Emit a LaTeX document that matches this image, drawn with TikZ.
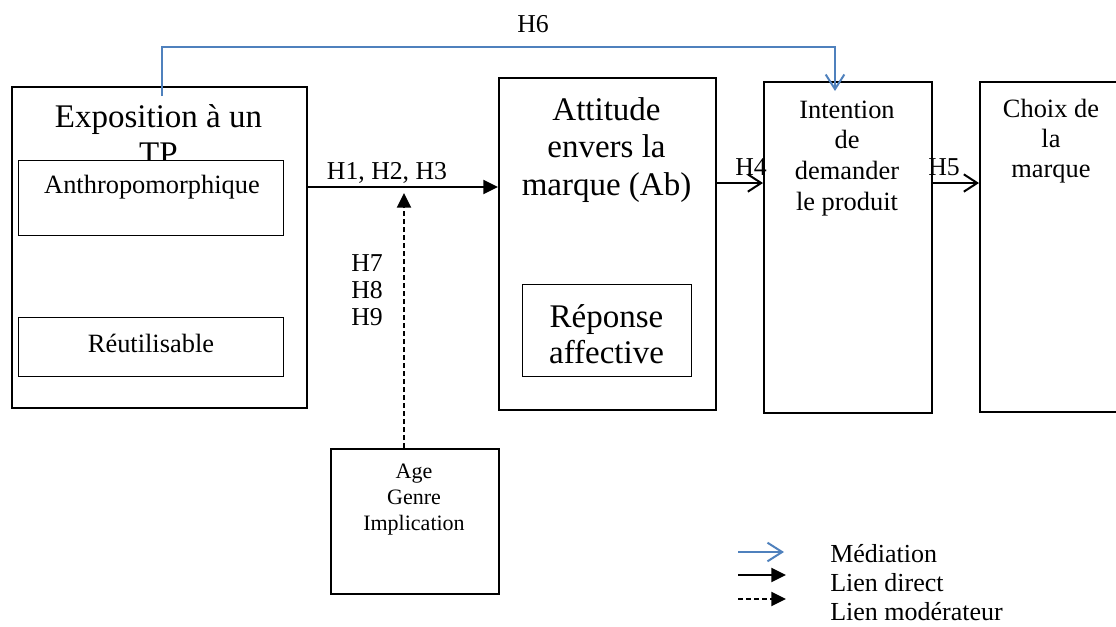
\documentclass[tikz,border=0pt]{standalone}
\usepackage{fontspec}
\setmainfont{Liberation Serif}
\usetikzlibrary{arrows.meta}
\definecolor{medblue}{RGB}{79,129,189}
\tikzset{
  box/.style={draw=black, line width=1.5pt, fill=white, inner sep=0pt},
  inbox/.style={draw=black, line width=1.1pt, fill=white, inner sep=0pt},
  bigtxt/.style={font=\fontsize{24.75}{28}\selectfont, align=center, anchor=base, inner sep=0pt},
  medtxt/.style={font=\fontsize{19.8}{23}\selectfont, align=center, anchor=base, inner sep=0pt},
  smalltxt/.style={font=\fontsize{16.5}{19.5}\selectfont, align=center, anchor=base, inner sep=0pt},
  lbl/.style={font=\fontsize{19.3}{19.9}\selectfont, anchor=base, inner sep=0pt},
  direct/.style={line width=1.5pt, -{Triangle[length=11pt,width=10.5pt]}},
  moder/.style={line width=1.5pt, dash pattern=on 3.75pt off 2.25pt, -{Triangle[length=11pt,width=10.5pt]}},
  openarr/.style={line width=1.5pt, -{Straight Barb[length=10pt,width=13pt,line width=1.5pt]}},
  medi/.style={line width=1.5pt, draw=medblue, -{Straight Barb[length=11pt,width=14pt,line width=1.5pt]}},
}
\begin{document}
\begin{tikzpicture}[x=0.75pt,y=-0.75pt]
\useasboundingbox (0,0) rectangle (1116,626);
% boxes
\node[box, minimum width=295pt*0.75, minimum height=321pt*0.75, anchor=north west] (expo) at (11,86) {};
\node[bigtxt, font=\fontsize{24.75}{27.5}\selectfont] (expot) at (158.5,164) {Exposition à un\\TP};
\node[inbox, minimum width=265pt*0.75, minimum height=75pt*0.75, anchor=north west] (anth) at (18,160) {};
\node[medtxt] (antht) at (152,193) {Anthropomorphique};
\node[inbox, minimum width=265pt*0.75, minimum height=59pt*0.75, anchor=north west] (reut) at (18,317) {};
\node[medtxt] (reutt) at (151,352) {Réutilisable};

\node[box, minimum width=217pt*0.75, minimum height=332pt*0.75, anchor=north west] (att) at (498,77) {};
\node[bigtxt] (attt) at (606.5,195) {Attitude\\envers la\\marque (Ab)};
\node[inbox, minimum width=169pt*0.75, minimum height=92pt*0.75, anchor=north west] (rep) at (522,284) {};
\node[bigtxt, font=\fontsize{24.75}{27}\selectfont] (rept) at (606.5,363) {Réponse\\affective};

\node[box, minimum width=168pt*0.75, minimum height=331pt*0.75, anchor=north west] (int) at (763,81) {};
\node[medtxt] (intt) at (847,210) {Intention\\de\\demander\\le produit};

\node[box, minimum width=150pt*0.75, minimum height=330pt*0.75, anchor=north west] (cho) at (979,81) {};
\node[medtxt, font=\fontsize{19.8}{22.5}\selectfont] (chot) at (1051,177) {Choix de\\la\\marque};

\node[box, minimum width=168pt*0.75, minimum height=145pt*0.75, anchor=north west] (age) at (330,448) {};
\node[smalltxt] (aget) at (414,530) {Age\\Genre\\Implication};

% connectors
\coordinate (h13a) at (expo.east |- 0,187);
\coordinate (h13b) at (att.west |- 0,187);
\draw[direct] (h13a) -- (h13b);
\node[lbl] (h13) at (387,179) {H1, H2, H3};

\coordinate (modtip) at (404,193);
\draw[moder] (age.north -| modtip) -- (modtip);
\node[lbl, font=\fontsize{19.3}{19.9}\selectfont, align=left, anchor=base west] (h789) at (351,325) {H7\\H8\\H9};

\coordinate (h4a) at (att.east |- 0,183);
\coordinate (h4b) at (int.west |- 0,183);
\draw[openarr] (h4a) -- (h4b);
\node[lbl, anchor=base west] (h4) at (735,175) {H4};

\coordinate (h5a) at (int.east |- 0,183);
\coordinate (h5b) at (cho.west |- 0,183);
\draw[openarr] (h5a) -- (h5b);
\node[lbl, anchor=base west] (h5) at (928,175) {H5};

\coordinate (h6s) at (162,96);
\coordinate (h6t) at (835,91);
\draw[medi] (h6s) -- (162,47) -- (835,47) -- (h6t);
\node[lbl, anchor=base] (h6) at (533,32) {H6};

% legend
\coordinate (l1a) at (738,552); \coordinate (l1b) at (784,552);
\coordinate (l2a) at (738,575); \coordinate (l2b) at (786,575);
\coordinate (l3a) at (738,599); \coordinate (l3b) at (786,599);
\draw[medi] (l1a) -- (l1b);
\draw[direct] (l2a) -- (l2b);
\draw[moder] (l3a) -- (l3b);
\node[font=\fontsize{19.5}{21.75}\selectfont, align=left, anchor=base west, inner sep=0pt] (leg) at (830,620) {Médiation\\Lien direct\\Lien modérateur};
\end{tikzpicture}
\end{document}
